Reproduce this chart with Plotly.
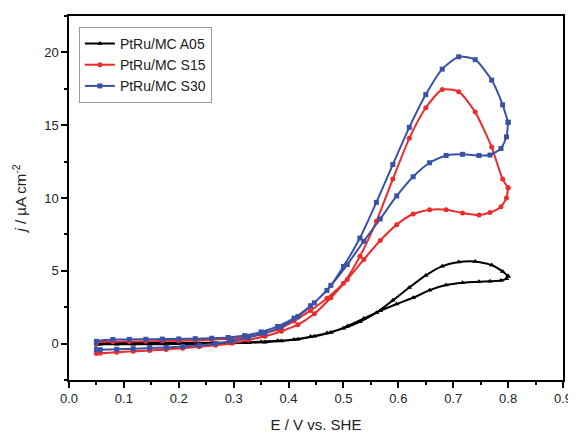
import plotly.graph_objects as go

# Cyclic voltammograms: forward scan (0.05 -> 0.80 V) then return scan (0.80 -> 0.05 V)
e_fwd = [0.05, 0.08, 0.11, 0.14, 0.17, 0.20, 0.23, 0.26, 0.29, 0.32, 0.35, 0.38, 0.41,
         0.44, 0.47, 0.50, 0.53, 0.56, 0.59, 0.62, 0.65, 0.68, 0.71, 0.74, 0.77, 0.79, 0.80]
e_back = [0.80, 0.797, 0.787, 0.767, 0.747, 0.717, 0.687, 0.657, 0.627, 0.597, 0.567, 0.537, 0.507,
          0.477, 0.447, 0.417, 0.387, 0.357, 0.327, 0.297, 0.267, 0.237, 0.207, 0.177,
          0.147, 0.117, 0.087, 0.057, 0.05]

a05_fwd = [0.04, 0.05, 0.05, 0.05, 0.05, 0.05, 0.05, 0.05, 0.06, 0.08, 0.13, 0.19, 0.29,
           0.48, 0.72, 1.05, 1.5, 2.12, 2.97, 3.85, 4.68, 5.32, 5.6, 5.64, 5.4, 4.95, 4.63]
a05_back = [4.63, 4.45, 4.33, 4.28, 4.25, 4.18, 4.02, 3.67, 3.15, 2.72, 2.25, 1.72, 1.2,
            0.76, 0.5, 0.3, 0.18, 0.1, 0.05, 0.02, 0.0, -0.02, -0.03, -0.04,
            -0.05, -0.05, -0.05, -0.05, -0.05]

s15_fwd = [0.05, 0.13, 0.14, 0.16, 0.18, 0.2, 0.23, 0.27, 0.33, 0.44, 0.65, 0.98, 1.55,
           2.28, 3.12, 4.15, 6.0, 8.4, 11.3, 14.1, 16.2, 17.45, 17.3, 15.9, 13.5, 11.3, 10.7]
s15_back = [10.7, 10.0, 9.4, 9.0, 8.83, 8.97, 9.2, 9.2, 8.9, 8.17, 7.08, 5.77, 4.4,
            3.15, 2.05, 1.3, 0.85, 0.5, 0.25, 0.02, -0.12, -0.22, -0.32, -0.4,
            -0.47, -0.53, -0.6, -0.66, -0.68]

s30_fwd = [0.15, 0.28, 0.29, 0.3, 0.31, 0.32, 0.34, 0.37, 0.42, 0.55, 0.8, 1.18, 1.75,
           2.6, 3.65, 5.3, 7.25, 9.7, 12.3, 14.85, 17.1, 18.85, 19.7, 19.5, 18.1, 16.4, 15.2]
s30_back = [15.2, 14.2, 13.4, 12.95, 12.92, 13.0, 12.92, 12.42, 11.46, 10.14, 8.56, 7.03, 5.43,
            4.0, 2.8, 1.85, 1.15, 0.72, 0.42, 0.18, 0.0, -0.12, -0.2, -0.26,
            -0.31, -0.35, -0.39, -0.42, -0.42]

names = ["PtRu/MC A05", "PtRu/MC S15", "PtRu/MC S30"]
colors = ["#000000", "#EE2B2B", "#3A52A6"]
symbols = ["triangle-up", "circle", "square"]

series = [(a05_fwd, a05_back), (s15_fwd, s15_back), (s30_fwd, s30_back)]

fig = go.Figure()
for (fwd, back), name, col, sym in zip(series, names, colors, symbols):
    x = e_fwd + e_back + [e_fwd[0]]
    y = fwd + back + [fwd[0]]
    fig.add_trace(go.Scatter(
        x=x, y=y, name=name, mode="lines+markers",
        line=dict(color=col, width=2, shape="spline", smoothing=0.6),
        marker=dict(symbol=sym, size=5, color=col),
    ))

font_name = "Liberation Sans, Arial"
axis_common = dict(
    showline=True, linecolor="black", linewidth=1.5, mirror=True,
    ticks="outside", ticklen=6, tickwidth=1.5, tickcolor="black",
    showgrid=False, zeroline=False, automargin=False,
    tickfont=dict(family=font_name, size=13, color="#222"),
)

fig.update_xaxes(range=[0, 0.9], dtick=0.1, tickformat=".1f",
                 minor=dict(dtick=0.05, ticks="outside", ticklen=3, tickwidth=1.5, tickcolor="black"),
                 title=dict(text="E / V vs. SHE", font=dict(family=font_name, size=15, color="#222"),
                            standoff=14),
                 **axis_common)
fig.update_yaxes(range=[-2.5, 22.5], tick0=0, dtick=5,
                 minor=dict(dtick=2.5, ticks="outside", ticklen=3, tickwidth=1.5, tickcolor="black"),
                 title=dict(text="<i>j</i> / µA cm<sup>-2</sup>",
                            font=dict(family=font_name, size=15, color="#222"), standoff=14),
                 **axis_common)

# page body has an 8px margin, so the figure is sized/offset to compensate
fig.update_layout(
    width=568, height=428,
    margin=dict(l=61, r=13, t=8, b=56),
    plot_bgcolor="white", paper_bgcolor="white",
    legend=dict(x=0.02, y=0.97, xanchor="left", yanchor="top",
                bgcolor="white", bordercolor="#999", borderwidth=1,
                font=dict(family=font_name, size=14, color="#222"),
                tracegroupgap=0, itemwidth=30),
    showlegend=True,
)

fig.write_html("out.html")
